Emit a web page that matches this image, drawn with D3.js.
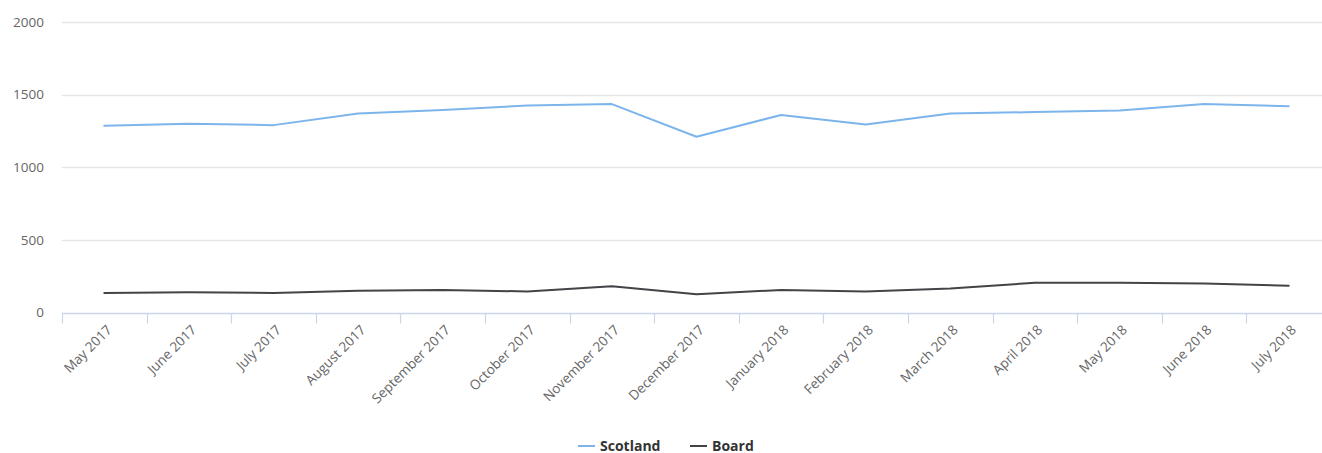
<!DOCTYPE html>
<html>
<head>
<meta charset="utf-8">
<title>Scotland vs Board</title>
<script src="https://d3js.org/d3.v7.min.js"></script>
<style>
  body { margin: 0; background: #fff; }
  svg { display: block; font-family: "Open Sans", "DejaVu Sans", sans-serif; overflow: visible; }
</style>
</head>
<body>
<div id="chart"></div>
<script>
// months on the x axis
var months = ["May 2017", "June 2017", "July 2017", "August 2017", "September 2017",
  "October 2017", "November 2017", "December 2017", "January 2018", "February 2018",
  "March 2018", "April 2018", "May 2018", "June 2018", "July 2018"];

// series values
var scotland = [1285, 1300, 1290, 1370, 1395, 1425, 1435, 1210, 1360, 1295, 1370, 1380, 1390, 1435, 1420];
var board = [135, 140, 135, 150, 155, 145, 180, 125, 155, 145, 165, 205, 205, 200, 185];

var yTicks = [0, 500, 1000, 1500, 2000];

var series = [
  {name: "Scotland", values: scotland, color: "#7cb5ec"},
  {name: "Board", values: board, color: "#434348"}
];

var W = 1322, H = 453;
var margin = {top: 22, left: 62, bottom: 141};
var plotRight = 1331; // plot runs a little past the window edge

var svg = d3.select("#chart").append("svg")
  .attr("width", W)
  .attr("height", H);

var x = d3.scaleBand()
  .domain(months)
  .range([margin.left, plotRight]);

var y = d3.scaleLinear()
  .domain([0, 2000])
  .range([H - margin.bottom + 0.5, margin.top]);

// grid lines
svg.append("g")
  .selectAll("line")
  .data(yTicks.filter(function(d) { return d > 0; }))
  .enter().append("line")
    .attr("x1", margin.left)
    .attr("x2", plotRight)
    .attr("y1", function(d) { return Math.round(y(d)) + 0.5; })
    .attr("y2", function(d) { return Math.round(y(d)) + 0.5; })
    .attr("stroke", "#e6e6e6")
    .attr("stroke-width", 1.5);

// y labels
svg.append("g")
  .selectAll("text")
  .data(yTicks)
  .enter().append("text")
    .attr("x", 44)
    .attr("y", function(d) { return y(d); })
    .attr("dy", "0.35em")
    .attr("text-anchor", "end")
    .attr("fill", "#666")
    .style("font-size", "13.5px")
    .text(function(d) { return d; });

// x axis line + ticks
var axisY = Math.round(y(0)) + 0.5;
svg.append("line")
  .attr("x1", margin.left).attr("x2", plotRight)
  .attr("y1", axisY).attr("y2", axisY)
  .attr("stroke", "#ccd6eb").attr("stroke-width", 1.5);

var tickPos = months.map(function(m) { return x(m); });
svg.append("g")
  .selectAll("line")
  .data(tickPos)
  .enter().append("line")
    .attr("x1", function(d) { return Math.round(d) + 0.5; })
    .attr("x2", function(d) { return Math.round(d) + 0.5; })
    .attr("y1", axisY)
    .attr("y2", axisY + 10)
    .attr("stroke", "#ccd6eb")
    .attr("stroke-width", 1.2);

// rotated month labels
svg.append("g")
  .selectAll("text")
  .data(months)
  .enter().append("text")
    .attr("transform", function(d) {
      return "translate(" + (x(d) + x.bandwidth() / 2 + 5) + "," + (axisY + 14) + ") rotate(-45)";
    })
    .attr("text-anchor", "end")
    .attr("dy", "0.35em")
    .attr("fill", "#666")
    .style("font-size", "13.5px")
    .text(function(d) { return d; });

// lines
var line = d3.line()
  .x(function(d, i) { return x(months[i]) + x.bandwidth() / 2; })
  .y(function(d) { return y(d); });

series.forEach(function(s) {
  svg.append("path")
    .datum(s.values)
    .attr("fill", "none")
    .attr("stroke", s.color)
    .attr("stroke-width", 2)
    .attr("stroke-linejoin", "round")
    .attr("stroke-linecap", "round")
    .attr("d", line);
});

// legend
var legendX = [578, 690];
var legendY = 446;

svg.append("g")
  .selectAll("line")
  .data(series)
  .enter().append("line")
    .attr("x1", function(d, i) { return legendX[i]; })
    .attr("x2", function(d, i) { return legendX[i] + 17; })
    .attr("y1", legendY).attr("y2", legendY)
    .attr("stroke", function(d) { return d.color; })
    .attr("stroke-width", 2);

svg.append("g")
  .selectAll("text")
  .data(series)
  .enter().append("text")
    .attr("x", function(d, i) { return legendX[i] + 22; })
    .attr("y", legendY + 5)
    .attr("fill", "#333")
    .style("font-size", "14px")
    .style("font-weight", "bold")
    .text(function(d) { return d.name; });
</script>
</body>
</html>
